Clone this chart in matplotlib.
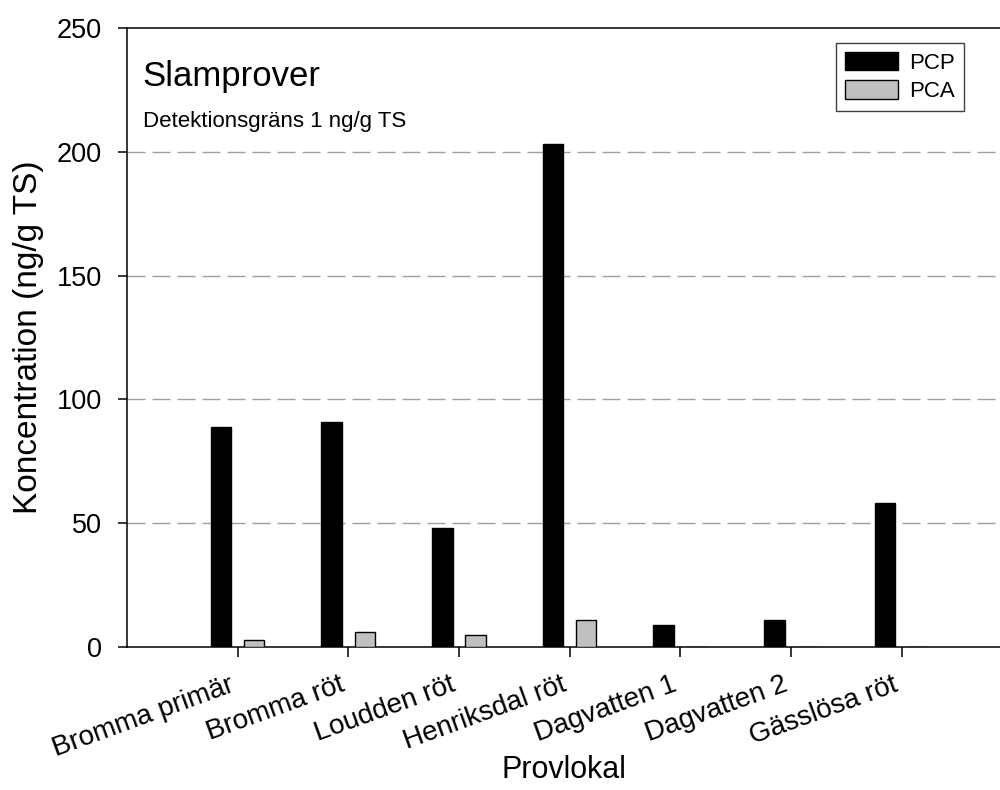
"""
Slamprover: PCP och PCA per provlokal, grupperat stapeldiagram.
"""

import matplotlib
matplotlib.use('Agg')
import matplotlib.pyplot as plt
import numpy as np

# Data
lokaler = ['Bromma primär', 'Bromma röt', 'Loudden röt', 'Henriksdal röt',
           'Dagvatten 1', 'Dagvatten 2', 'Gässlösa röt']
pcp = [89, 91, 48, 203, 9, 11, 58]
pca = [3, 6, 5, 11, 0, 0, 0]
yticks = [0, 50, 100, 150, 200, 250]


def main():
    plt.rcParams['font.family'] = ['Liberation Sans', 'DejaVu Sans']

    fig = plt.figure(figsize=(10, 7.9), dpi=100)
    ax = fig.add_axes([0.127, 0.181, 0.873, 0.7835])

    x = np.arange(len(lokaler))
    w = 0.185
    ax.bar(x - 0.15, pcp, w, color='black', edgecolor='black', linewidth=1,
           label='PCP', zorder=3)
    ax.bar(x + 0.15, pca, w, color='#c0c0c0', edgecolor='black', linewidth=1,
           label='PCA', zorder=3)

    ax.set_xlim(-1, 6.89)
    ax.set_ylim(0, 250)
    ax.set_yticks(yticks)
    ax.set_xticks(x)
    ax.set_xticklabels(lokaler, rotation=20, ha='right', fontsize=20)
    ax.tick_params(axis='y', labelsize=19.5, length=6.5, width=1.1, pad=11.5)
    ax.tick_params(axis='x', length=7, width=1.1, pad=11)

    # streckade stödlinjer
    for v in yticks[1:-1]:
        ax.axhline(v, color='#a0a0a0', linewidth=1, dashes=(13, 5), zorder=1)

    for side in ['left', 'bottom', 'top']:
        ax.spines[side].set_linewidth(1.1)
    ax.spines['right'].set_visible(False)

    ax.set_ylabel('Koncentration (ng/g TS)', fontsize=24, labelpad=9)
    ax.set_xlabel('Provlokal', fontsize=22)
    ax.xaxis.set_label_coords(0.5, -0.175)

    ax.text(0.018, 0.948, 'Slamprover', transform=ax.transAxes, fontsize=25,
            va='top', ha='left')
    ax.text(0.018, 0.866, 'Detektionsgräns 1 ng/g TS', transform=ax.transAxes,
            fontsize=16, va='top', ha='left')

    leg = ax.legend(loc='upper right', bbox_to_anchor=(0.959, 0.976),
                    borderaxespad=0, fontsize=16, fancybox=False,
                    edgecolor='#404040', framealpha=1, borderpad=0.4,
                    labelspacing=0.3, handlelength=2.4, handleheight=0.9,
                    handletextpad=0.5)
    leg.get_frame().set_linewidth(1)

    fig.savefig('out.png', dpi=100)


if __name__ == '__main__':
    main()
